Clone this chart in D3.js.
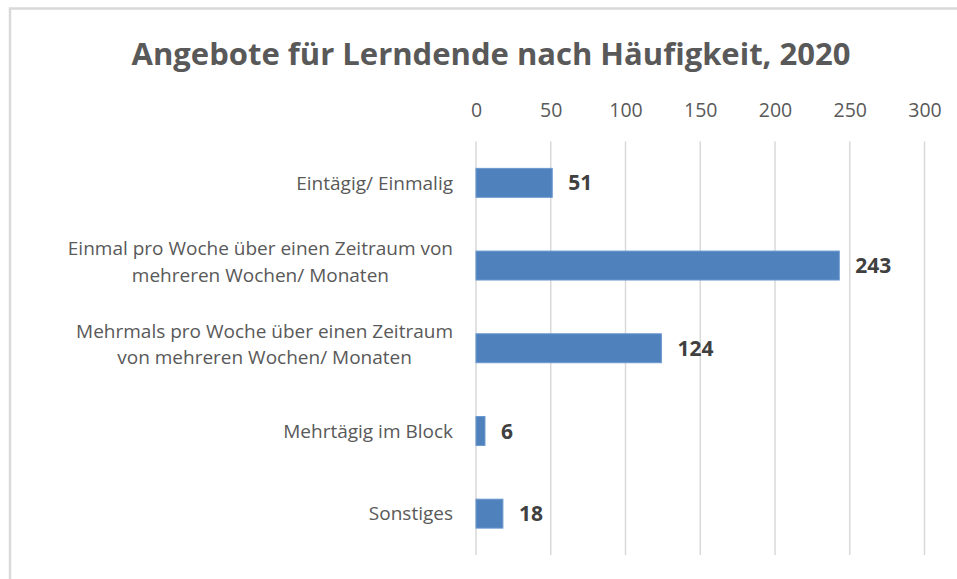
<!DOCTYPE html>
<html>
<head>
<meta charset="utf-8">
<script src="https://cdn.jsdelivr.net/npm/d3@7"></script>
<style>
  html, body { margin: 0; padding: 0; background: #fff; }
  #chart { width: 957px; height: 579px; }
</style>
</head>
<body>
<div id="chart"></div>
<script>
const categories = [
  ["Eintägig/ Einmalig"],
  ["Einmal pro Woche über einen Zeitraum von", "mehreren Wochen/ Monaten"],
  ["Mehrmals pro Woche über einen Zeitraum", "von mehreren Wochen/ Monaten"],
  ["Mehrtägig im Block"],
  ["Sonstiges"]
];
const values = [51, 243, 124, 6, 18];
const xTicks = [0, 50, 100, 150, 200, 250, 300];
const title = "Angebote für Lerndende nach Häufigkeit, 2020";

const W = 957, H = 579;
const FONT = "'Open Sans', sans-serif";

const svg = d3.select("#chart").append("svg")
  .attr("width", W)
  .attr("height", H);

svg.append("rect").attr("width", W).attr("height", H).attr("fill", "#fff");

// chart area border (runs off the right/bottom edge)
svg.append("rect")
  .attr("x", 10).attr("y", 8.5)
  .attr("width", 1000).attr("height", 700)
  .attr("fill", "#fff")
  .attr("stroke", "#d9d9d9")
  .attr("stroke-width", 2.5);

const plot = { left: 476, right: 924.5, top: 141.5, bottom: 555 };

const x = d3.scaleLinear().domain([0, 300]).range([plot.left, plot.right]);
const y = d3.scaleBand()
  .domain(d3.range(values.length))
  .range([plot.top, plot.bottom])
  .paddingInner(0.65)
  .paddingOuter(0.325);

// title
svg.append("text")
  .attr("x", 491).attr("y", 65)
  .attr("text-anchor", "middle")
  .attr("font-family", FONT)
  .attr("font-weight", "bold")
  .attr("font-size", 31)
  .attr("fill", "#595959")
  .text(title);

// gridlines
svg.append("g").selectAll("line")
  .data(xTicks)
  .join("line")
  .attr("x1", d => x(d)).attr("x2", d => x(d))
  .attr("y1", plot.top).attr("y2", plot.bottom)
  .attr("stroke", "#d9d9d9")
  .attr("stroke-width", 1.5);

// top axis labels
const axis = svg.append("g")
  .attr("transform", `translate(0,${plot.top - 25})`)
  .call(d3.axisTop(x).tickValues(xTicks).tickSize(0).tickPadding(0));
axis.select(".domain").remove();
axis.selectAll("text")
  .attr("font-family", FONT)
  .attr("font-size", 19.5)
  .attr("fill", "#595959")
  .attr("dy", 0);

// bars
svg.append("g").selectAll("rect")
  .data(values)
  .join("rect")
  .attr("x", x(0))
  .attr("y", (d, i) => y(i))
  .attr("width", d => x(d) - x(0))
  .attr("height", y.bandwidth())
  .attr("fill", "#4f81bd")
  .attr("stroke", "#6a98cf")
  .attr("stroke-width", 1);

// value labels
svg.append("g").selectAll("text")
  .data(values)
  .join("text")
  .attr("x", d => x(d) + 16)
  .attr("y", (d, i) => y(i) + y.bandwidth() / 2)
  .attr("dy", "0.36em")
  .attr("font-family", FONT)
  .attr("font-weight", "bold")
  .attr("font-size", 21)
  .attr("fill", "#404040")
  .text(d => d);

// category labels: one text per category, lines as tspans centred in the block
const labelRight = 453;
const lineH = 26.5;
categories.forEach((lines, i) => {
  const cy = y(i) + y.bandwidth() / 2 - (lines.length > 1 ? 4 : 0);
  const t = svg.append("text")
    .attr("text-anchor", "middle")
    .attr("font-family", FONT)
    .attr("font-size", 19)
    .attr("fill", "#595959");
  const spans = lines.map((ln, j) => t.append("tspan")
    .attr("y", cy + (j - (lines.length - 1) / 2) * lineH)
    .attr("dy", "0.36em")
    .text(ln));
  const maxW = d3.max(spans, s => s.node().getComputedTextLength());
  spans.forEach(s => s.attr("x", labelRight - maxW / 2));
});
</script>
</body>
</html>
